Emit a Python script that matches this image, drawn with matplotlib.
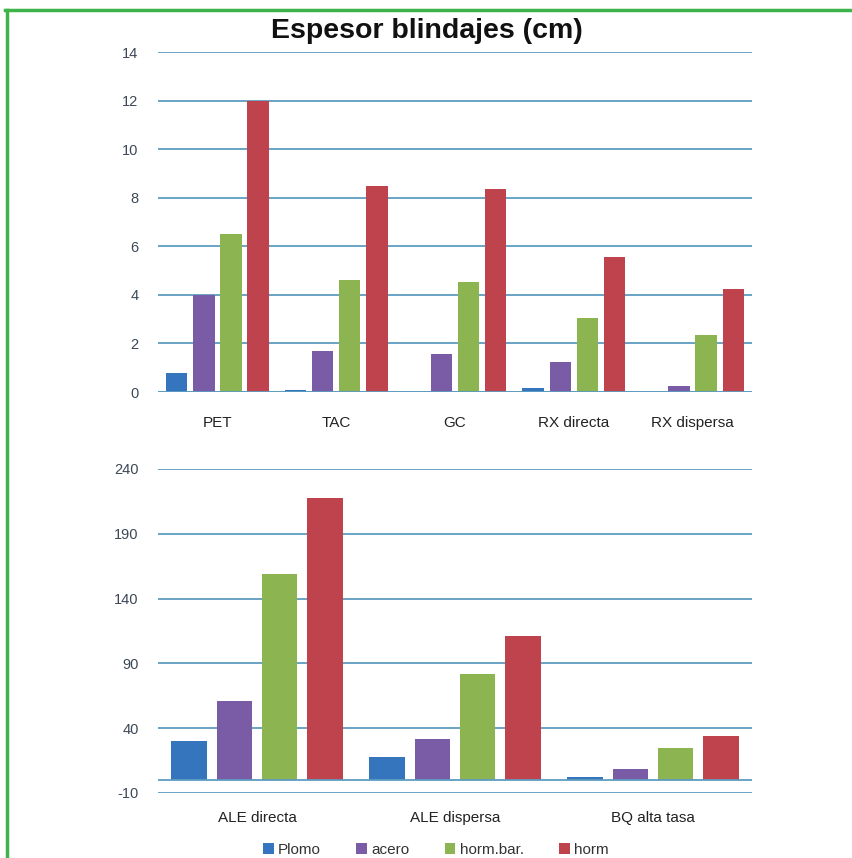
import matplotlib
matplotlib.use("Agg")
import matplotlib.pyplot as plt
from matplotlib.lines import Line2D
from matplotlib.patches import Patch
import numpy as np

# ---- data ----
series_names = ["Plomo", "acero", "horm.bar.", "horm"]
colors = ["#3475bd", "#7a5ca6", "#8cb552", "#bf434c"]

categories_top = ["PET", "TAC", "GC", "RX directa", "RX dispersa"]
plomo_top = [0.8, 0.1, 0.0, 0.15, 0.0]
acero_top = [4.0, 1.7, 1.55, 1.25, 0.25]
hormbar_top = [6.5, 4.6, 4.55, 3.05, 2.35]
horm_top = [12.0, 8.5, 8.35, 5.55, 4.25]
yticks_top = [0, 2, 4, 6, 8, 10, 12, 14]

categories_bot = ["ALE directa", "ALE dispersa", "BQ alta tasa"]
plomo_bot = [30, 18, 2]
acero_bot = [61, 32, 8.5]
hormbar_bot = [159, 82, 25]
horm_bot = [218, 111, 34]
yticks_bot = [-10, 40, 90, 140, 190, 240]

title = "Espesor blindajes (cm)"

# ---- figure ----
W, H = 853, 858
fig = plt.figure(figsize=(W / 100, H / 100), dpi=100)
fig.patch.set_facecolor("white")

grid_color = "#5d9cc0"
text_color = "#3d4756"
font = ["Liberation Sans", "DejaVu Sans"]


def fx(px):
    return px / W


def fy(py):
    return 1 - py / H


def draw(ax, cats, series, yticks, ylim, label_pad):
    x = np.arange(len(cats))
    width = 0.18
    offsets = np.array([-1.5, -0.5, 0.5, 1.5]) * 0.228
    for vals, off, c in zip(series, offsets, colors):
        ax.bar(x + off, vals, width=width, color=c, zorder=3)
    ax.set_xlim(-0.5, len(cats) - 0.5)
    ax.set_ylim(*ylim)
    ax.set_yticks(yticks)
    ax.set_yticklabels([str(t) for t in yticks], fontsize=10.5, color=text_color,
                       family=font)
    ax.set_xticks(x)
    ax.set_xticklabels(cats, fontsize=11, color="#222222", family=font)
    ax.tick_params(axis="both", length=0)
    ax.tick_params(axis="y", pad=14)
    ax.tick_params(axis="x", pad=label_pad)
    for s in ax.spines.values():
        s.set_visible(False)
    for t in yticks:
        ax.axhline(t, color=grid_color, lw=1.3, zorder=1)
    ax.axhline(0, color=grid_color, lw=1.3, zorder=4)
    ax.set_facecolor("none")


ax1 = fig.add_axes([fx(158), fy(392), fx(752) - fx(158), fy(52) - fy(392)])
draw(ax1, categories_top, [plomo_top, acero_top, hormbar_top, horm_top],
     yticks_top, (0, 14), 17)

ax2 = fig.add_axes([fx(158), fy(793), fx(752) - fx(158), fy(469) - fy(793)])
draw(ax2, categories_bot, [plomo_bot, acero_bot, hormbar_bot, horm_bot],
     yticks_bot, (-10, 240), 13)

fig.text(fx(427), fy(31), title, ha="center", va="center", fontsize=20.5,
         fontweight="bold", color="#111111", family=font)

handles = [Patch(facecolor=c, edgecolor="none") for c in colors]
fig.legend(handles, series_names, loc="center", bbox_to_anchor=(fx(436), fy(850)),
           ncol=4, frameon=False, handlelength=0.7, handleheight=0.7,
           handletextpad=0.3, columnspacing=2.3,
           prop={"family": font, "size": 11})
for t in fig.legends[0].get_texts():
    t.set_color("#333333")

# green frame
green = "#3db34a"
fig.add_artist(Line2D([fx(5), 1.0], [fy(10), fy(10)], color=green, lw=2.5,
                      transform=fig.transFigure))
fig.add_artist(Line2D([fx(7), fx(7)], [fy(10), 0.0], color=green, lw=2.5,
                      transform=fig.transFigure))

fig.savefig("out.png", dpi=100)
